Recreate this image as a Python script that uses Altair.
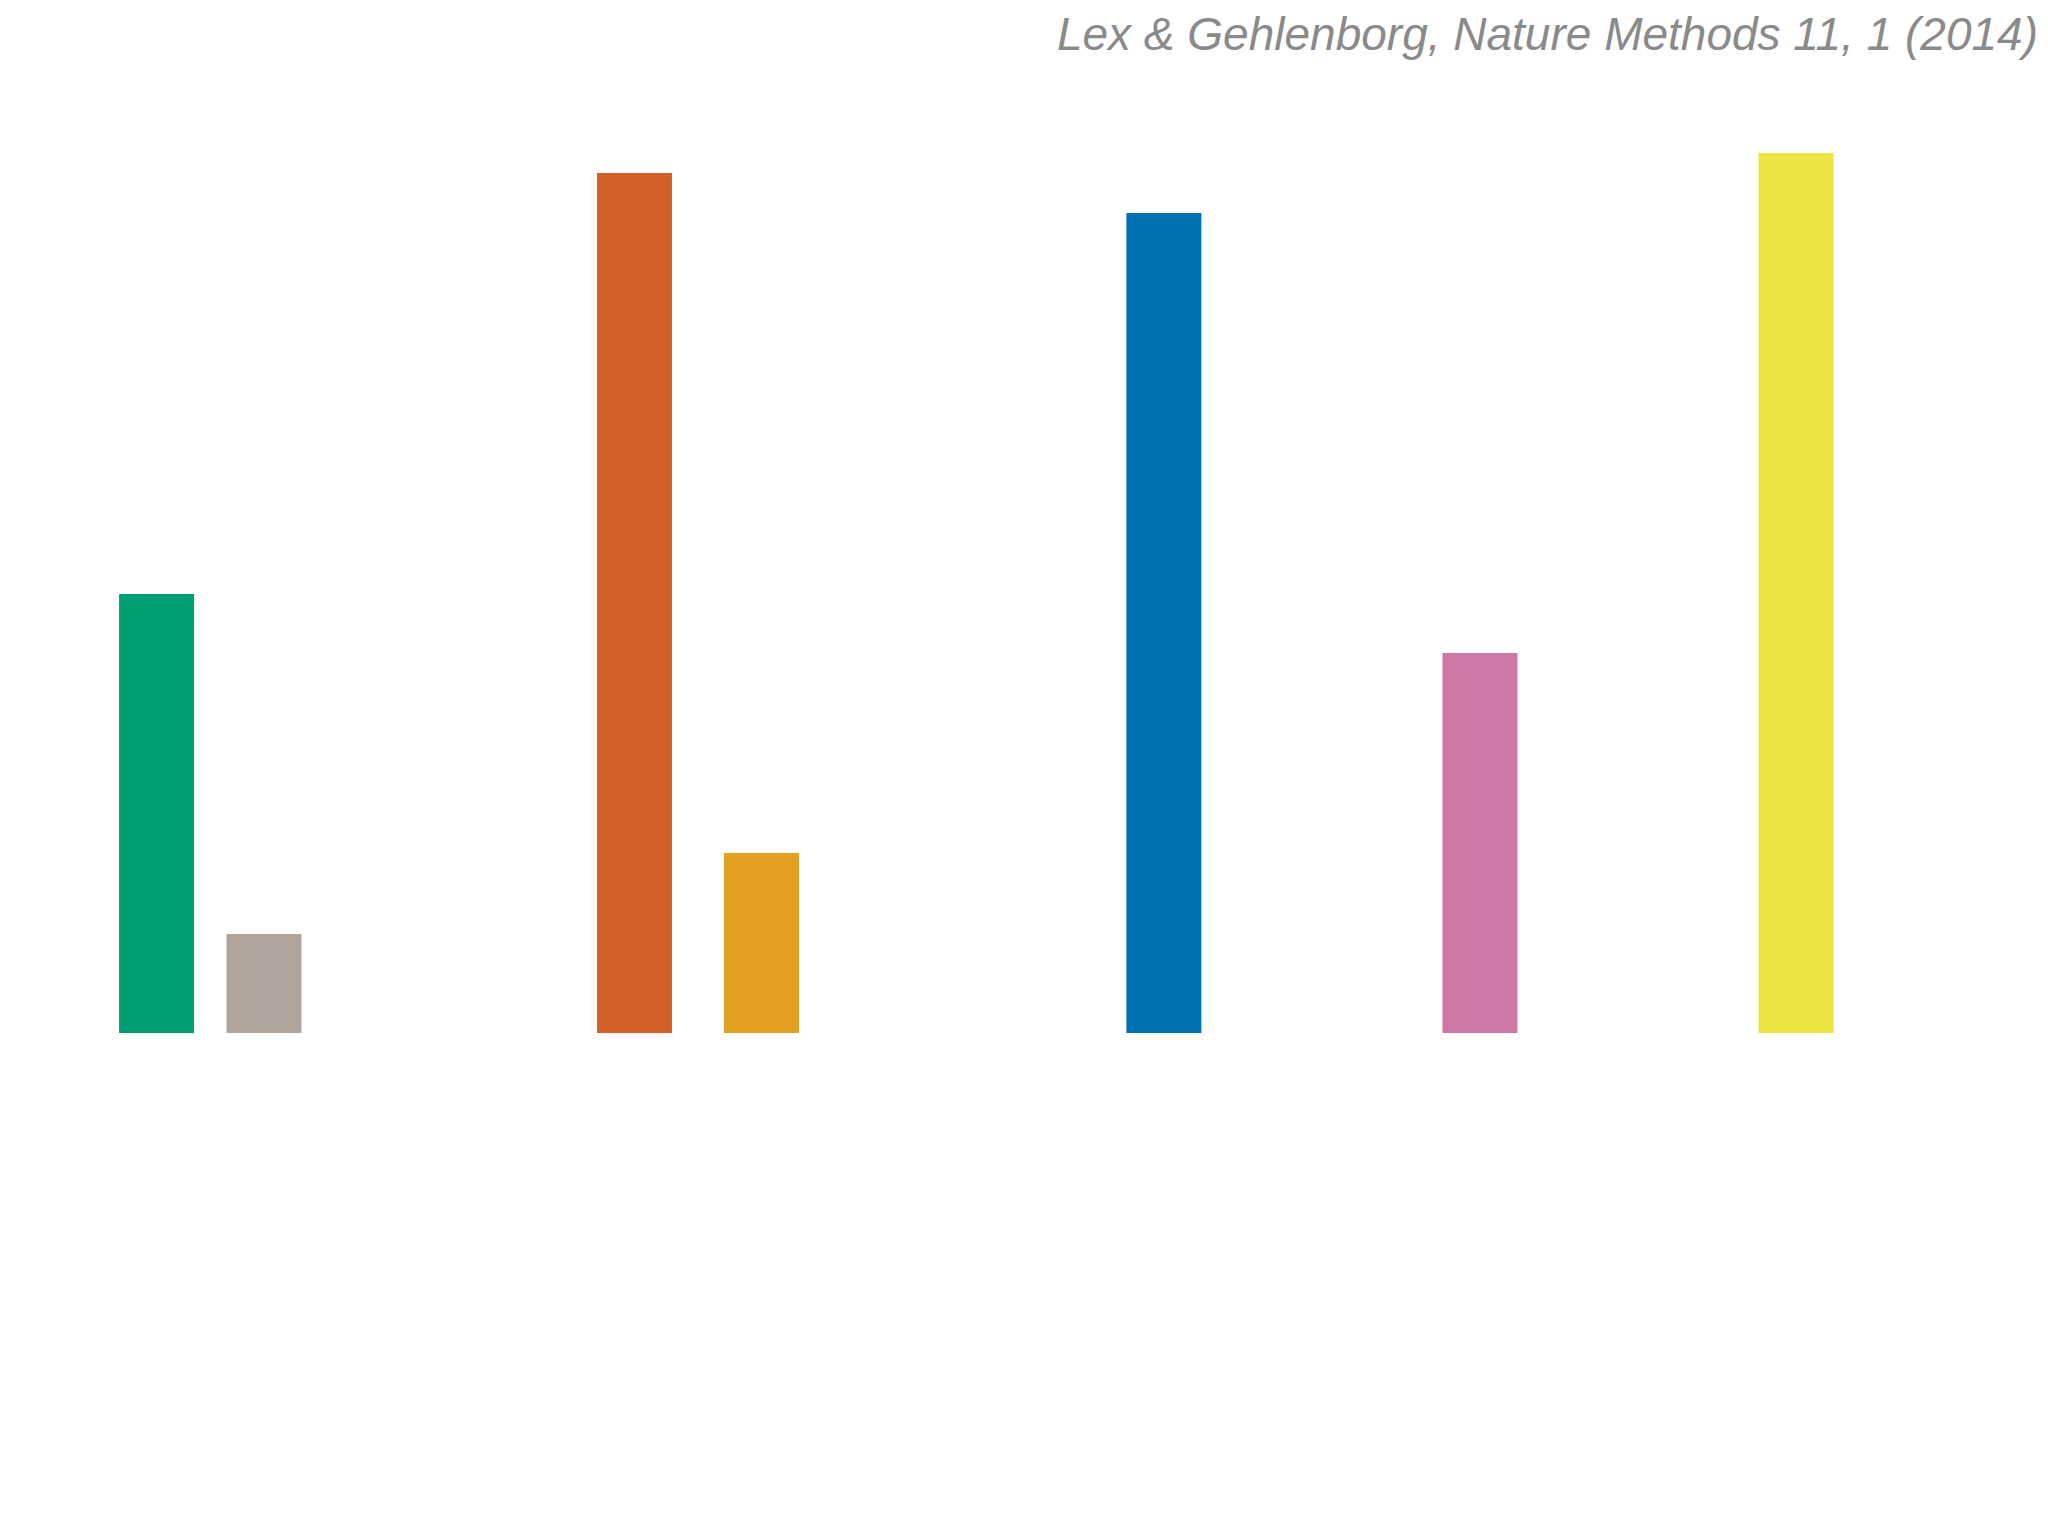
import altair as alt
import pandas as pd

# Data
labels = ["A", "B", "C", "D", "E", "F", "G"]
positions = [7.32, 12.61, 30.86, 37.12, 56.94, 72.51, 88.08]
values = [43.9, 9.9, 86.0, 18.0, 82.0, 38.0, 88.0]
colors = ["#009e73", "#b1a59b", "#d35f29", "#e29f21", "#0071b3", "#ce78a8", "#ede442"]

df = pd.DataFrame({"label": labels, "pos": positions, "value": values})

chart = (
    alt.Chart(df)
    .mark_bar(size=75)
    .encode(
        x=alt.X("pos:Q", axis=None,
                scale=alt.Scale(domain=[0, 100], nice=False, zero=False, padding=0)),
        y=alt.Y("value:Q", axis=None,
                scale=alt.Scale(domain=[0, 96.5], nice=False, padding=0)),
        color=alt.Color("label:N", legend=None,
                        scale=alt.Scale(domain=labels, range=colors)),
    )
    .properties(
        width=2030,
        height=965,
        title=alt.TitleParams(
            "Lex & Gehlenborg, Nature Methods 11, 1 (2014)",
            anchor="end",
            font="Liberation Sans",
            fontSize=46,
            fontStyle="italic",
            fontWeight="normal",
            color="#8a8a8a",
            baseline="alphabetic",
            offset=-28,
        ),
        autosize=alt.AutoSizeParams(type="none"),
        padding={"left": 0, "top": 60, "right": 0, "bottom": 0},
        background="white",
    )
    .configure_view(stroke=None)
)

chart.save("out.html", embed_options={"renderer": "svg", "actions": False})
